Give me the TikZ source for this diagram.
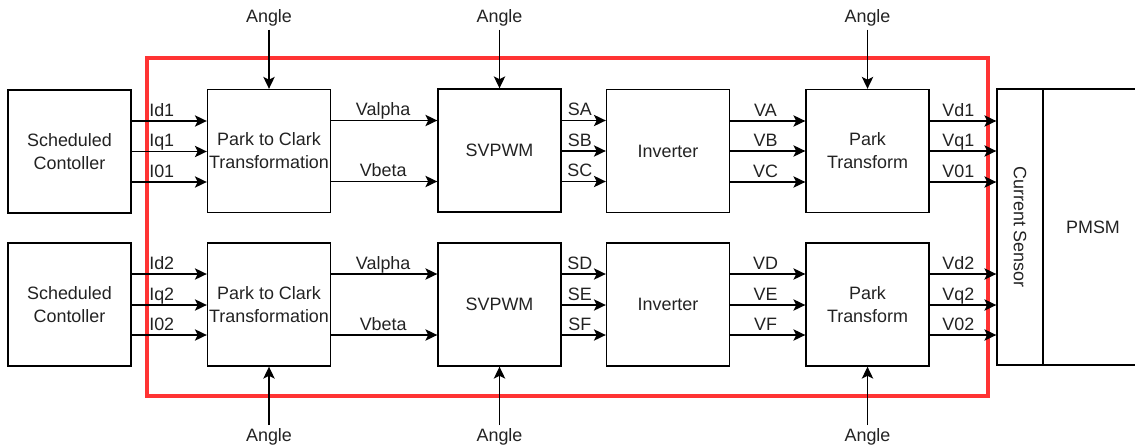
\documentclass[tikz,border=0pt]{standalone}
\usepackage{fontspec}
\setmainfont{Liberation Sans}
\usetikzlibrary{arrows.meta}
\definecolor{frame}{RGB}{255,51,51}
\definecolor{txt}{RGB}{34,34,34}
\begin{document}
\begin{tikzpicture}[x=0.02cm,y=-0.02cm,
  font=\fontsize{10.2pt}{13pt}\selectfont,
  box/.style={draw, line width=0.8pt, minimum width=2.46cm, minimum height=2.46cm, align=center, inner sep=0pt, text=txt},
  arr/.style={line width=0.8pt, -{Stealth[length=6.8pt,width=6.5pt,inset=1.6pt]}},
  lbl/.style={anchor=base, yshift=2.8pt, inner sep=0pt, text=txt},
  ang/.style={inner sep=1.5pt, text=txt},
  redframe/.style={draw=frame, line width=2.3pt}]
\useasboundingbox (0,0) rectangle (1135,446);
% red frame
\draw[redframe] (147,58) rectangle (988,396);

% top row
\node[box] (sc1) at (69.5,151.5) {Scheduled\\Contoller};
\node[box] (pc1) at (269,151) {Park to Clark\\Transformation};
\node[box] (sv1) at (499.5,150.5) {SVPWM};
\node[box] (in1) at (668,151) {Inverter};
\node[box] (pt1) at (867.5,151) {Park\\Transform};
% bottom row
\node[box] (sc2) at (69.5,304.5) {Scheduled\\Contoller};
\node[box] (pc2) at (269,304.5) {Park to Clark\\Transformation};
\node[box] (sv2) at (499.5,304.5) {SVPWM};
\node[box] (in2) at (668,304.5) {Inverter};
\node[box] (pt2) at (867.5,304.5) {Park\\Transform};
% sensor and motor
\draw[line width=0.8pt] (1043,89) -- (1143,89) (1043,365) -- (1143,365);
\node[box, minimum width=0.92cm, minimum height=5.52cm] (cs) at (1020,227) {};
\node[rotate=-90, text=txt] at (cs.center) {Current Sensor};
\node[text=txt] (pmsm) at (1093,227) {PMSM};

% angles
\node[ang, anchor=base] (a1) at (269,23) {Angle};
\node[ang, anchor=base] (a2) at (499.5,23) {Angle};
\node[ang, anchor=base] (a3) at (867.5,23) {Angle};
\node[ang, anchor=base] (a4) at (269,441) {Angle};
\node[ang, anchor=base] (a5) at (499.5,441) {Angle};
\node[ang, anchor=base] (a6) at (867.5,441) {Angle};
\draw[arr] (a1.south) -- (pc1.north);
\draw[arr] (a2.south) -- (sv1.north);
\draw[arr] (a3.south) -- (pt1.north);
\draw[arr] (a4.north) -- (pc2.south);
\draw[arr] (a5.north) -- (sv2.south);
\draw[arr] (a6.north) -- (pt2.south);

% top connectors
\draw[arr] (sc1.east |- 0,121) -- node[lbl,pos=0.40]{Id1} (pc1.west |- 0,121);
\draw[arr] (sc1.east |- 0,151.5) -- node[lbl,pos=0.40]{Iq1} (pc1.west |- 0,151.5);
\draw[arr] (sc1.east |- 0,182) -- node[lbl,pos=0.40]{I01} (pc1.west |- 0,182);
\draw[arr] (pc1.east |- 0,120.5) -- node[lbl,pos=0.49]{Valpha} (sv1.west |- 0,120.5);
\draw[arr] (pc1.east |- 0,181.5) -- node[lbl,pos=0.49]{Vbeta} (sv1.west |- 0,181.5);
\draw[arr] (sv1.east |- 0,120.5) -- node[lbl,pos=0.41]{SA} (in1.west |- 0,120.5);
\draw[arr] (sv1.east |- 0,151) -- node[lbl,pos=0.41]{SB} (in1.west |- 0,151);
\draw[arr] (sv1.east |- 0,181.5) -- node[lbl,pos=0.41]{SC} (in1.west |- 0,181.5);
\draw[arr] (in1.east |- 0,121) -- node[lbl,pos=0.47]{VA} (pt1.west |- 0,121);
\draw[arr] (in1.east |- 0,151) -- node[lbl,pos=0.47]{VB} (pt1.west |- 0,151);
\draw[arr] (in1.east |- 0,182) -- node[lbl,pos=0.47]{VC} (pt1.west |- 0,182);
\draw[arr] (pt1.east |- 0,121) -- node[lbl,pos=0.43]{Vd1} (cs.west |- 0,121);
\draw[arr] (pt1.east |- 0,151) -- node[lbl,pos=0.43]{Vq1} (cs.west |- 0,151);
\draw[arr] (pt1.east |- 0,182) -- node[lbl,pos=0.43]{V01} (cs.west |- 0,182);

% bottom connectors
\draw[arr] (sc2.east |- 0,274) -- node[lbl,pos=0.40]{Id2} (pc2.west |- 0,274);
\draw[arr] (sc2.east |- 0,305) -- node[lbl,pos=0.40]{Iq2} (pc2.west |- 0,305);
\draw[arr] (sc2.east |- 0,335) -- node[lbl,pos=0.40]{I02} (pc2.west |- 0,335);
\draw[arr] (pc2.east |- 0,274) -- node[lbl,pos=0.49]{Valpha} (sv2.west |- 0,274);
\draw[arr] (pc2.east |- 0,335) -- node[lbl,pos=0.49]{Vbeta} (sv2.west |- 0,335);
\draw[arr] (sv2.east |- 0,274) -- node[lbl,pos=0.41]{SD} (in2.west |- 0,274);
\draw[arr] (sv2.east |- 0,305) -- node[lbl,pos=0.41]{SE} (in2.west |- 0,305);
\draw[arr] (sv2.east |- 0,335) -- node[lbl,pos=0.41]{SF} (in2.west |- 0,335);
\draw[arr] (in2.east |- 0,274) -- node[lbl,pos=0.47]{VD} (pt2.west |- 0,274);
\draw[arr] (in2.east |- 0,305) -- node[lbl,pos=0.47]{VE} (pt2.west |- 0,305);
\draw[arr] (in2.east |- 0,335) -- node[lbl,pos=0.47]{VF} (pt2.west |- 0,335);
\draw[arr] (pt2.east |- 0,274) -- node[lbl,pos=0.43]{Vd2} (cs.west |- 0,274);
\draw[arr] (pt2.east |- 0,305) -- node[lbl,pos=0.43]{Vq2} (cs.west |- 0,305);
\draw[arr] (pt2.east |- 0,335) -- node[lbl,pos=0.43]{V02} (cs.west |- 0,335);
\end{tikzpicture}
\end{document}
